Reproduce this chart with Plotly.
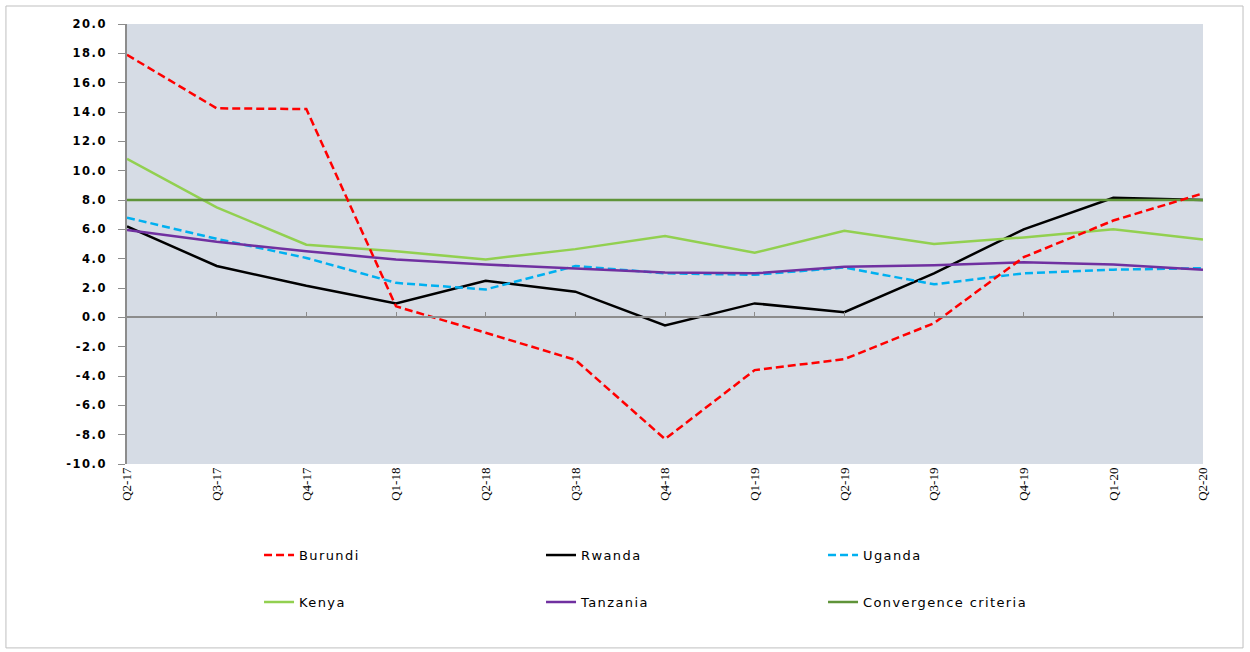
import plotly.graph_objects as go

quarters = ["Q2-17", "Q3-17", "Q4-17", "Q1-18", "Q2-18", "Q3-18", "Q4-18",
            "Q1-19", "Q2-19", "Q3-19", "Q4-19", "Q1-20", "Q2-20"]

burundi = [17.9, 14.25, 14.2, 0.75, -1.05, -2.9, -8.3, -3.6, -2.85, -0.4, 4.1, 6.6, 8.45]
rwanda = [6.2, 3.5, 2.15, 0.95, 2.5, 1.75, -0.55, 0.95, 0.35, 3.0, 6.0, 8.15, 8.0]
uganda = [6.8, 5.35, 4.05, 2.35, 1.9, 3.5, 3.0, 2.9, 3.4, 2.25, 3.0, 3.25, 3.35]
kenya = [10.8, 7.5, 4.95, 4.5, 3.95, 4.65, 5.55, 4.4, 5.9, 5.0, 5.45, 6.0, 5.3]
tanzania = [5.95, 5.15, 4.5, 3.95, 3.6, 3.3, 3.05, 3.0, 3.45, 3.55, 3.75, 3.6, 3.25]
criteria = [8.0] * len(quarters)

y_ticks = list(range(-10, 21, 2))
y_ticktext = ['<span style="letter-spacing:1.5px">%.1f</span>' % v for v in y_ticks]


def spaced(label):
    return '<span style="letter-spacing:1.4px">%s</span>' % label


# (name, values, colour, dash, legend, rank) -- Burundi drawn last so it sits on top
series = [
    ("Rwanda", rwanda, "#000000", "solid", "legend", 2),
    ("Uganda", uganda, "#00B0F0", "8px,4px", "legend", 3),
    ("Kenya", kenya, "#92D050", "solid", "legend2", 4),
    ("Tanzania", tanzania, "#7030A0", "solid", "legend2", 5),
    ("Convergence criteria", criteria, "#5F9439", "solid", "legend2", 6),
    ("Burundi", burundi, "#FF0000", "8px,4px", "legend", 1),
]

idx = list(range(len(quarters)))

fig = go.Figure()
for name, vals, color, dash, leg, rank in series:
    fig.add_trace(go.Scatter(
        x=idx, y=vals, name=spaced(name), mode="lines",
        line=dict(color=color, width=2.5, dash=dash),
        legend=leg, legendrank=rank,
    ))

legend_common = dict(
    orientation="h", xanchor="left", yanchor="middle",
    font=dict(family="DejaVu Sans", size=13, color="#000000"),
    bgcolor="rgba(0,0,0,0)", entrywidth=237, entrywidthmode="pixels",
    traceorder="normal",
)

fig.update_layout(
    width=1250, height=652,
    margin=dict(l=127, r=47, t=24, b=188),
    paper_bgcolor="#FFFFFF",
    plot_bgcolor="#D6DCE5",
    showlegend=True,
    legend=dict(x=0.1227, y=-0.207, **legend_common),
    legend2=dict(x=0.1227, y=-0.314, **legend_common),
    xaxis=dict(
        range=[0, 12], tickvals=idx, ticktext=quarters, tickangle=-90,
        showgrid=False, zeroline=False, showline=False, ticks="",
        tickfont=dict(family="Liberation Sans Narrow", size=13, color="#000000"),
    ),
    xaxis2=dict(
        overlaying="x", anchor="free", position=1 / 3, range=[0, 12],
        tickvals=idx, showticklabels=False, ticks="inside", ticklen=5,
        tickcolor="#8C8C8C", showline=True, linecolor="#8C8C8C", linewidth=1.5,
        showgrid=False, zeroline=False,
    ),
    yaxis=dict(
        range=[-10, 20], tickvals=y_ticks, ticktext=y_ticktext,
        showgrid=False, zeroline=False, showline=True, linecolor="#8C8C8C",
        linewidth=1.5, ticks="outside", ticklen=7, tickcolor="#8C8C8C",
        ticklabelstandoff=9,
        tickfont=dict(family="DejaVu Sans", size=11.5, color="#000000", weight="bold"),
    ),
    shapes=[dict(
        type="rect", xref="paper", yref="paper",
        x0=-0.1125, x1=1.0372, y0=-0.418, y1=1.0409,
        line=dict(color="#BFBFBF", width=1), fillcolor="rgba(0,0,0,0)", layer="below",
    )],
)

# empty trace so the zero-line axis is drawn
fig.add_trace(go.Scatter(x=[0], y=[None], xaxis="x2", showlegend=False, hoverinfo="skip"))

fig.write_html("out.html")
